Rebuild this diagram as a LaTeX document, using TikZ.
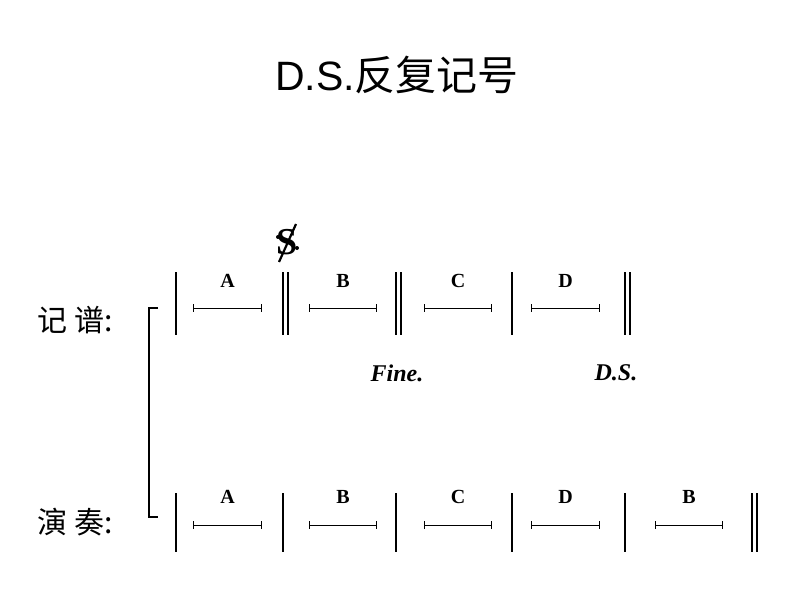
\documentclass[tikz,border=0pt]{standalone}
\usepackage{fontspec}
\setmainfont{Liberation Serif}
\newfontfamily\cjk{Noto Sans CJK SC}
\newfontfamily\hei{Liberation Sans}
\begin{document}
\begin{tikzpicture}[x=1pt,y=-1pt,
    barline/.style={line width=1.3pt},
    seg/.style={line width=0.8pt,|-|},
    lbl/.style={font=\bfseries\fontsize{20}{20}\selectfont},
    dsmark/.style={font=\bfseries\itshape\fontsize{24}{24}\selectfont}]
    \useasboundingbox (0,0) rectangle (794,596);
    \node (title) at (397,75) {\hei\fontsize{41}{41}\selectfont D.S.\cjk 反复记号};
    \node (score) at (75,320) {\cjk\fontsize{30}{30}\selectfont 记 谱:};
    \node (play) at (75,522) {\cjk\fontsize{30}{30}\selectfont 演 奏:};
    % bracket
    \draw[line width=1.2pt] (158,308) -- (149,308) -- (149,517) -- (158,517);
    % written row
    \foreach \x in {176,283,288,396,401,512,625,630}
        \draw[barline] (\x,272) -- (\x,335);
    \foreach \a/\b/\t in {193/262/A,309/377/B,424/492/C,531/600/D} {
        \draw[seg] (\a,308) -- (\b,308);
        \node[lbl] at ({(\a+\b)/2},281) {\t};
    }
    \node[dsmark] (fine) at (397,373) {Fine.};
    \node[dsmark] (ds) at (616,373) {D.S.};
    % segno
    \node[font=\bfseries\fontsize{38}{38}\selectfont] (segno) at (287,242) {S};
    \draw[line width=2.2pt] (279,262) -- (296,224);
    \fill (278,237) circle (2pt) (297,248) circle (2pt);
    % played row
    \foreach \x in {176,283,396,512,625,752,757}
        \draw[barline] (\x,493) -- (\x,552);
    \foreach \a/\b/\t in {193/262/A,309/377/B,424/492/C,531/600/D,655/723/B} {
        \draw[seg] (\a,525) -- (\b,525);
        \node[lbl] at ({(\a+\b)/2},497) {\t};
    }
\end{tikzpicture}
\end{document}
